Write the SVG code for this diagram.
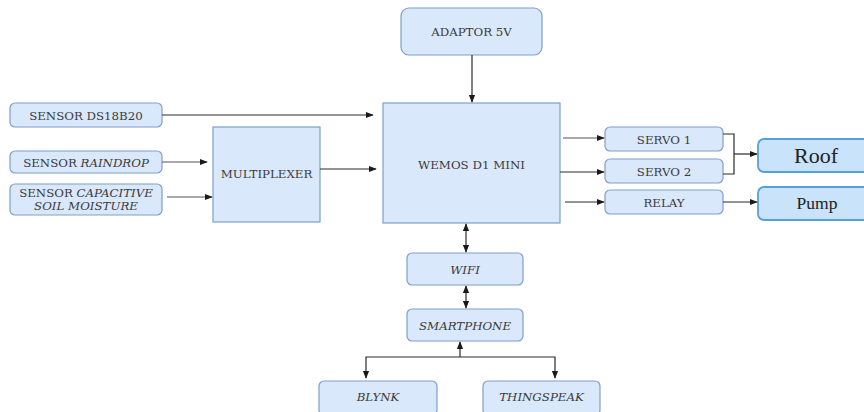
<svg xmlns="http://www.w3.org/2000/svg" width="864" height="412" viewBox="0 0 864 412">
<style>
.b{fill:#dae8fc;stroke:#7f9fca;stroke-width:1.2}
.o{fill:#c9e3fb;stroke:#5b9ee0;stroke-width:1.8}
.t{font-family:"DejaVu Serif",serif;font-size:11.8px;fill:#3a3a3a;text-anchor:middle}
.i{font-style:italic}
.big{font-family:"Liberation Serif",serif;fill:#222;text-anchor:middle}
.c{fill:none;stroke:#2a2a2a;stroke-width:1.2}
.d{stroke:#555}
</style>
<defs>
<marker id="a" viewBox="0 0 10 10" refX="9" refY="5" markerWidth="8" markerHeight="8" orient="auto-start-reverse" markerUnits="userSpaceOnUse">
<path d="M0,1 L10,5 L0,9 z" fill="#1a1a1a"/>
</marker>
</defs>
<rect width="864" height="412" fill="#ffffff"/>
<g id="adaptor"><rect class="b" x="401" y="8" width="141" height="47" rx="8"/><text class="t" x="471.5" y="36">ADAPTOR 5V</text></g>
<g id="ds18b20"><rect class="b" x="10" y="103" width="152" height="24" rx="5"/><text class="t" x="86" y="119.5">SENSOR DS18B20</text></g>
<g id="raindrop"><rect class="b" x="10" y="151" width="152" height="22" rx="5"/><text class="t" x="86" y="166.5">SENSOR <tspan class="i">RAINDROP</tspan></text></g>
<g id="capacitive"><rect class="b" x="10" y="184" width="152" height="31" rx="5"/><text class="t" x="86" y="197">SENSOR <tspan class="i">CAPACITIVE</tspan></text><text class="t i" x="86" y="210">SOIL MOISTURE</text></g>
<g id="multiplexer"><rect class="b" x="213" y="127" width="107" height="95"/><text class="t" x="266.5" y="178">MULTIPLEXER</text></g>
<g id="wemos"><rect class="b" x="383" y="103" width="177" height="120"/><text class="t" x="471.5" y="169">WEMOS D1 MINI</text></g>
<g id="servo1"><rect class="b" x="605" y="127" width="118" height="24" rx="5"/><text class="t" x="664" y="143.5">SERVO 1</text></g>
<g id="servo2"><rect class="b" x="605" y="159" width="118" height="24" rx="5"/><text class="t" x="664" y="175.5">SERVO 2</text></g>
<g id="relay"><rect class="b" x="605" y="190" width="118" height="24" rx="5"/><text class="t" x="664" y="206.5">RELAY</text></g>
<g id="roof"><rect class="o" x="758" y="139" width="116" height="33" rx="6"/><text class="big" x="816" y="163" font-size="22">Roof</text></g>
<g id="pump"><rect class="o" x="758" y="187" width="116" height="33" rx="6"/><text class="big" x="817" y="209" font-size="17.5">Pump</text></g>
<g id="wifi"><rect class="b" x="407" y="253" width="116" height="32" rx="5"/><text class="t i" x="465" y="273.5">WIFI</text></g>
<g id="smartphone"><rect class="b" x="407" y="309" width="116" height="32" rx="5"/><text class="t i" x="465" y="329.5">SMARTPHONE</text></g>
<g id="blynk"><rect class="b" x="319" y="381" width="118" height="34" rx="5"/><text class="t i" x="378" y="401">BLYNK</text></g>
<g id="thingspeak"><rect class="b" x="483" y="381" width="117" height="34" rx="5"/><text class="t i" x="541.5" y="401">THINGSPEAK</text></g>
<g id="connectors">
<path class="c" d="M472,55 V102" marker-end="url(#a)"/>
<path class="c" d="M162,115 H373" marker-end="url(#a)"/>
<path class="c d" d="M162,162 H207" marker-end="url(#a)"/>
<path class="c d" d="M167,197 H212" marker-end="url(#a)"/>
<path class="c" d="M320,169 H376" marker-end="url(#a)"/>
<path class="c d" d="M563,138 H604" marker-end="url(#a)"/>
<path class="c" d="M560,172 H604" marker-end="url(#a)"/>
<path class="c" d="M565,202 H604" marker-end="url(#a)"/>
<path class="c" d="M723,134 H734 V174 H723"/>
<path class="c" d="M734,154 H757" marker-end="url(#a)"/>
<path class="c" d="M723,202 H757" marker-end="url(#a)"/>
<path class="c" d="M466,224 V252" marker-start="url(#a)" marker-end="url(#a)"/>
<path class="c" d="M466,286 V308" marker-start="url(#a)" marker-end="url(#a)"/>
<path class="c" d="M460,357 V342" marker-end="url(#a)"/>
<path class="c" d="M366,378 V357 H555 V378" marker-start="url(#a)" marker-end="url(#a)"/>
</g>
</svg>
